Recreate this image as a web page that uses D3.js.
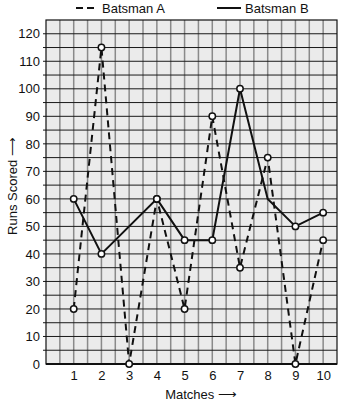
<!DOCTYPE html>
<html>
<head>
<meta charset="utf-8">
<script src="https://cdn.jsdelivr.net/npm/d3@7"></script>
<style>
  body { margin: 0; background: #fff; }
  text { font-family: "Liberation Sans", Arial, sans-serif; fill: #111; }
</style>
</head>
<body>
<svg id="chart"></svg>
<script>
// data
const matches = [1, 2, 3, 4, 5, 6, 7, 8, 9, 10];
const runsA = [20, 115, 0, 60, 20, 90, 35, 75, 0, 45];
const matchesB = [1, 2, 4, 5, 6, 7, 8, 9, 10];
const runsB = [60, 40, 60, 45, 45, 100, 60, 50, 55];
const markedB = [true, true, true, true, true, true, false, true, true];
const yTicks = [0, 10, 20, 30, 40, 50, 60, 70, 80, 90, 100, 110, 120];

const width = 342;
const height = 405;
const margin = { top: 20, right: 5, bottom: 41, left: 46 };

const svg = d3.select("#chart").attr("width", width).attr("height", height);

const x = d3.scaleLinear().domain([0, 10.5]).range([margin.left, width - margin.right]);
const y = d3.scaleLinear().domain([0, 125]).range([height - margin.bottom, margin.top]);

// plot background
svg.append("rect")
  .attr("x", x(0)).attr("y", y(125))
  .attr("width", x(10.5) - x(0)).attr("height", y(0) - y(125))
  .style("fill", "#ebebeb");

// grid
const g = svg.append("g");
g.selectAll("line.v")
  .data(d3.range(0.5, 10.5, 0.5))
  .join("line")
  .attr("class", "v")
  .attr("x1", (d) => x(d)).attr("x2", (d) => x(d))
  .attr("y1", y(125)).attr("y2", y(0))
  .style("stroke", "#8a8a8a").style("stroke-width", 1.5);

g.selectAll("line.h")
  .data(d3.range(5, 125, 5))
  .join("line")
  .attr("class", "h")
  .attr("x1", x(0) - 3).attr("x2", x(10.5))
  .attr("y1", (d) => y(d)).attr("y2", (d) => y(d))
  .style("stroke", "#1a1a1a").style("stroke-width", 1);

// frame
svg.append("rect")
  .attr("x", x(0)).attr("y", y(125))
  .attr("width", x(10.5) - x(0)).attr("height", y(0) - y(125))
  .style("fill", "none").style("stroke", "#111").style("stroke-width", 1.2);

svg.append("line")
  .attr("x1", x(0)).attr("x2", x(10.5))
  .attr("y1", y(0)).attr("y2", y(0))
  .style("stroke", "#111").style("stroke-width", 2);

// axes
const xAxis = d3.axisBottom(x).tickValues(matches).tickSize(0).tickPadding(7);
const yAxis = d3.axisLeft(y).tickValues(yTicks).tickSize(0).tickPadding(6);

svg.append("g")
  .attr("transform", `translate(0, ${y(0)})`)
  .call(xAxis)
  .call((s) => s.select(".domain").remove())
  .selectAll("text").style("font-size", "13px");

svg.append("g")
  .attr("transform", `translate(${x(0)}, 0)`)
  .call(yAxis)
  .call((s) => s.select(".domain").remove())
  .selectAll("text").style("font-size", "13px");

// lines
const lineA = d3.line().x((d, i) => x(matches[i])).y((d) => y(d));
const lineB = d3.line().x((d, i) => x(matchesB[i])).y((d) => y(d));

svg.append("path")
  .attr("d", lineA(runsA))
  .style("fill", "none").style("stroke", "#111")
  .style("stroke-width", 2).style("stroke-dasharray", "7,5");

svg.append("path")
  .attr("d", lineB(runsB))
  .style("fill", "none").style("stroke", "#111").style("stroke-width", 2);

// markers
svg.selectAll("circle.a")
  .data(runsA)
  .join("circle")
  .attr("class", "a")
  .attr("cx", (d, i) => x(matches[i]))
  .attr("cy", (d) => y(d))
  .attr("r", 3.2)
  .style("fill", "#fff").style("stroke", "#111").style("stroke-width", 1.5);

svg.selectAll("circle.b")
  .data(runsB.filter((d, i) => markedB[i]))
  .join("circle")
  .attr("class", "b")
  .attr("cx", (d, i) => x(matchesB.filter((m, j) => markedB[j])[i]))
  .attr("cy", (d) => y(d))
  .attr("r", 3.2)
  .style("fill", "#fff").style("stroke", "#111").style("stroke-width", 1.5);

// legend
const legend = svg.append("g");
legend.append("line")
  .attr("x1", 76).attr("x2", 94).attr("y1", 8).attr("y2", 8)
  .style("stroke", "#111").style("stroke-width", 2).style("stroke-dasharray", "7,4");
legend.append("text").attr("x", 102).attr("y", 13).style("font-size", "13px").text("Batsman A");
legend.append("line")
  .attr("x1", 217).attr("x2", 241).attr("y1", 8).attr("y2", 8)
  .style("stroke", "#111").style("stroke-width", 2);
legend.append("text").attr("x", 245).attr("y", 13).style("font-size", "13px").text("Batsman B");

// axis titles
svg.append("text")
  .attr("x", 201).attr("y", 399)
  .attr("text-anchor", "middle")
  .style("font-size", "13px")
  .text("Matches \u27F6");

svg.append("text")
  .attr("transform", "translate(17, 186) rotate(-90)")
  .attr("text-anchor", "middle")
  .style("font-size", "13px")
  .text("Runs Scored \u27F6");
</script>
</body>
</html>
